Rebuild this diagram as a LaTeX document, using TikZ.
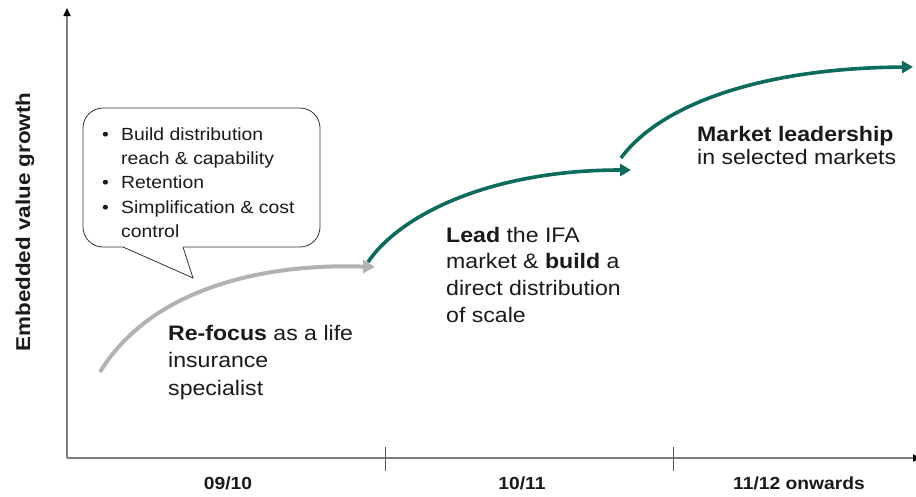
\documentclass[tikz,border=0pt]{standalone}
\usepackage{fontspec}
\setmainfont[FakeStretch=1.1]{Liberation Sans}
\newfontfamily\ylabfont[FakeStretch=1.12]{Liberation Sans}
\usetikzlibrary{arrows.meta}
\definecolor{axisgray}{HTML}{7F7F7F}
\definecolor{arrowgray}{HTML}{B2B2B2}
\definecolor{tealline}{HTML}{0B6B5C}
\definecolor{textblack}{HTML}{1A1A1A}
\tikzset{
  axisline/.style={draw=axisgray, line width=1.6pt},
  tickline/.style={draw=axisgray!70!black, line width=0.8pt},
  grayarrow/.style={draw=arrowgray, line width=4pt, -{Triangle[length=12pt,width=13pt]}},
  tealarrow/.style={draw=tealline, line width=3.6pt, -{Triangle[length=11pt,width=12pt]}},
  bodytext/.style={inner sep=0pt, anchor=north west, align=left, text=textblack},
  periodlabel/.style={inner sep=0pt, anchor=base, text=textblack, font=\fontsize{17.5}{17.5}\selectfont\bfseries},
  calloutbox/.style={draw=black!80, line width=0.8pt, rounded corners=20pt, fill=white, minimum width=237pt, minimum height=139pt, inner sep=0pt}
}
\begin{document}
\begin{tikzpicture}[x=1pt,y=-1pt]
\useasboundingbox (0,0) rectangle (916,496);
\fill[white] (0,0) rectangle (916,496);

% axes
\coordinate (origin) at (67,458);
\coordinate (ytop) at (67,8);
\coordinate (xend) at (921,458);
\draw[axisline, -{Triangle[length=8pt,width=7pt,color=black]}] (origin) -- (ytop);
\draw[axisline, -{Triangle[length=8pt,width=7pt,color=black]}] (origin) -- (xend);

% ticks
\coordinate (tickAtop) at (385,447);
\coordinate (tickAbot) at (385,471);
\coordinate (tickBtop) at (673,447);
\coordinate (tickBbot) at (673,471);
\draw[tickline] (tickAtop) -- (tickAbot);
\draw[tickline] (tickBtop) -- (tickBbot);

% period labels
\node[periodlabel] (p1) at (228,489) {09/10};
\node[periodlabel] (p2) at (522,489) {10/11};
\node[periodlabel] (p3) at (799,489) {11/12 onwards};

% y label
\node[rotate=90, anchor=base, inner sep=0pt, text=textblack, font=\ylabfont\fontsize{20}{20}\selectfont\bfseries] (ylab) at (30,222) {Embedded value growth};

% curves
\coordinate (g1) at (100,372);
\coordinate (g2) at (375,267);
\draw[grayarrow] (g1) .. controls (150,290) and (260,263) .. (g2);
\coordinate (t1s) at (368,262);
\coordinate (t1e) at (631,170);
\draw[tealarrow] (t1s) .. controls (400,215) and (490,170) .. (t1e);
\coordinate (t2s) at (621,158);
\coordinate (t2e) at (913,67);
\draw[tealarrow] (t2s) .. controls (660,105) and (760,68) .. (t2e);

% callout
\node[calloutbox] (callout) at (201.5,177.5) {};
\coordinate (pl) at (123,247);
\coordinate (ptip) at (193,278);
\coordinate (pr) at (183,247);
\fill[white] (123,244) -- (pl) -- (ptip) -- (pr) -- (183,244) -- cycle;
\draw[draw=black!80, line width=0.8pt, line join=miter] (pl) -- (ptip) -- (pr);
\node[bodytext, font=\fontsize{17.6}{24.4}\selectfont] (calltext) at (101,127.2)
  {\makebox[20pt][l]{\hspace{1pt}•}Build distribution\\
   \hspace*{20pt}reach \& capability\\
   \makebox[20pt][l]{\hspace{1pt}•}Retention\\
   \makebox[20pt][l]{\hspace{1pt}•}Simplification \& cost\\
   \hspace*{20pt}control};

% texts
\node[bodytext, font=\fontsize{21}{27.5}\selectfont] (refocus) at (168,324.7)
  {\textbf{Re-focus} as a life\\insurance\\specialist};
\node[bodytext, font=\fontsize{21}{26.7}\selectfont] (lead) at (446,226.7)
  {\textbf{Lead} the IFA\\market \& \textbf{build} a\\direct distribution\\of scale};
\node[bodytext, font=\fontsize{21}{23.3}\selectfont] (market) at (697,125.7)
  {\textbf{Market leadership}\\in selected markets};
\end{tikzpicture}
\end{document}
